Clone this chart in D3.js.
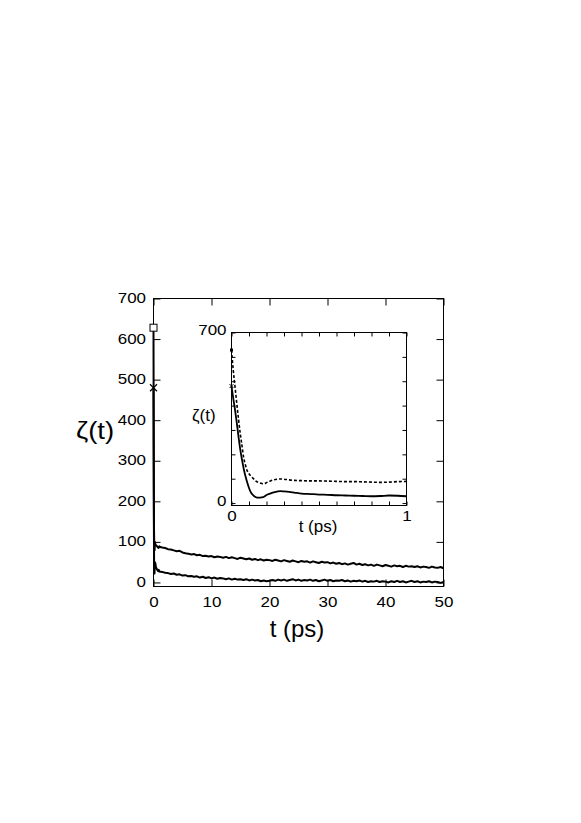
<!DOCTYPE html>
<html>
<head>
<meta charset="utf-8">
<script src="https://cdn.jsdelivr.net/npm/d3@7"></script>
<style>
  body { margin: 0; background: #fff; }
  text { font-family: "Liberation Sans", Arial, Helvetica, sans-serif; fill: #000; }
</style>
</head>
<body>
<div id="chart"></div>
<script>
// short-time part of the friction kernel (ps), also shown in the inset
let shortT = [0, 0.01, 0.02, 0.03, 0.04, 0.05, 0.06, 0.07, 0.08, 0.09, 0.10, 0.11, 0.12, 0.13, 0.14,
  0.15, 0.16, 0.17, 0.18, 0.19, 0.20, 0.22, 0.24, 0.26, 0.28, 0.30, 0.33, 0.36, 0.40, 0.45,
  0.50, 0.55, 0.60, 0.65, 0.70, 0.75, 0.80, 0.85, 0.90, 0.95, 1.00];
let shortUpper = [628, 545, 478, 410, 345, 285, 235, 185, 155, 132, 120, 111, 104, 97, 90,
  86, 83, 81, 79, 80, 84, 90, 95, 98, 99, 98, 95, 93, 92, 91,
  91, 90, 89, 88, 88, 87, 86, 85, 86, 88, 89];
let shortLower = [480, 430, 383, 330, 273, 220, 178, 140, 110, 84, 62, 45, 35, 28, 24,
  22, 22, 23, 24, 28, 33, 39, 44, 47, 49, 48, 46, 43, 39, 37,
  35, 34, 32, 31, 30, 29, 28, 29, 31, 30, 28];

// long-time tail, sampled every 0.5 ps from 1 to 50 ps
let longT = d3.range(1, 50.001, 0.5);
let longUpper = [88, 86, 85, 82, 81, 79, 77, 78, 74, 72, 71, 69, 70, 67, 68, 65, 66, 64, 65,
  62, 64, 63, 61, 63, 60, 62, 60, 58, 61, 59, 57, 59, 56, 58, 55, 57, 54, 56, 55,
  53, 56, 54, 52, 55, 53, 51, 54, 52, 50, 53, 51, 52, 49, 52, 50, 48, 51, 49, 50,
  47, 49, 46, 48, 45, 47, 44, 46, 48, 44, 46, 43, 45, 42, 44, 41, 44, 42, 40, 43,
  41, 39, 42, 40, 41, 38, 41, 39, 40, 38, 40, 37, 39, 38, 36, 39, 37, 36, 38, 35];
let longLower = [27, 26, 24, 23, 21, 22, 19, 20, 17, 18, 15, 16, 14, 15, 12, 14, 11, 13, 10,
  12, 9, 11, 10, 8, 10, 7, 9, 7, 8, 6, 8, 5, 7, 5, 6, 3, 5, 3, 4,
  6, 4, 7, 5, 7, 4, 6, 8, 5, 7, 4, 6, 5, 7, 4, 6, 3, 5, 7, 4,
  6, 3, 5, 4, 6, 3, 5, 2, 4, 3, 5, 2, 4, 1, 3, 2, 4, 1, 3, 2,
  0, 3, 1, 4, 1, 3, 0, 2, 4, 1, 3, 0, 2, 1, 3, 0, 2, 1, -1, 1];

// t = 0 values marked with symbols
let startUpper = 628;
let startLower = 480;

let mainXTicks = [0, 10, 20, 30, 40, 50];
let mainYTicks = [0, 100, 200, 300, 400, 500, 600, 700];
let insetXTicks = [0, 0.1, 0.2, 0.3, 0.4, 0.5, 0.6, 0.7, 0.8, 0.9, 1];
let insetYTicks = [0, 100, 200, 300, 400, 500, 600, 700];
let insetXLabels = [0, 1];
let insetYLabels = [0, 700];

let width = 581, height = 823;
let svg = d3.select("#chart").append("svg")
  .attr("width", width)
  .attr("height", height)
  .style("background", "#fff");

let tickFont = 14.5;
let stretch = "scale(1.17,1)"; // tick digits in the original are wide

// ---------- main plot ----------
let main = { left: 153.5, right: 443.5, top: 298.5, bottom: 586.5 };
let x = d3.scaleLinear().domain([0, 50]).range([main.left, main.right]);
let y = d3.scaleLinear().domain([-10, 700]).range([main.bottom, main.top]);

function styleTicks(g) {
  g.select(".domain").remove();
  g.selectAll(".tick line").attr("stroke", "#000").attr("stroke-width", 1);
}

let gx = svg.append("g").attr("transform", `translate(0,${main.bottom})`)
  .call(d3.axisBottom(x).tickValues(mainXTicks).tickSize(-7).tickPadding(10).tickFormat(d3.format("d")));
styleTicks(gx);
gx.selectAll("text").attr("font-size", tickFont).attr("font-family", null).attr("transform", stretch);

let gxTop = svg.append("g").attr("transform", `translate(0,${main.top})`)
  .call(d3.axisTop(x).tickValues(mainXTicks).tickSize(-7).tickFormat(""));
styleTicks(gxTop);

let gy = svg.append("g").attr("transform", `translate(${main.left},0)`)
  .call(d3.axisLeft(y).tickValues(mainYTicks).tickSize(-7).tickFormat(d3.format("d")));
styleTicks(gy);
gy.selectAll("text").attr("font-size", tickFont).attr("font-family", null)
  .attr("x", -7.5 / 1.17).attr("dy", "0.28em").attr("transform", stretch);

let gyRight = svg.append("g").attr("transform", `translate(${main.right},0)`)
  .call(d3.axisRight(y).tickValues(mainYTicks).tickSize(-7).tickFormat(""));
styleTicks(gyRight);

svg.append("rect")
  .attr("x", main.left).attr("y", main.top)
  .attr("width", main.right - main.left).attr("height", main.bottom - main.top)
  .attr("fill", "none").attr("stroke", "#000").attr("stroke-width", 1);

let allT = shortT.concat(longT);
let line = d3.line().x((d) => x(d[0])).y((d) => y(d[1]));

[shortUpper.concat(longUpper), shortLower.concat(longLower)].forEach(function (vals) {
  svg.append("path")
    .datum(allT.map((t, i) => [t, vals[i]]))
    .attr("d", line)
    .attr("fill", "none")
    .attr("stroke", "#000")
    .attr("stroke-width", 2)
    .attr("stroke-linejoin", "round");
});

// t = 0 symbols
let sq = 7;
svg.append("rect")
  .attr("x", x(0) - sq / 2).attr("y", y(startUpper) - sq / 2)
  .attr("width", sq).attr("height", sq)
  .attr("fill", "#fff").attr("stroke", "#000").attr("stroke-width", 1);
let cx = x(0), cy = y(startLower), r = 3.5;
svg.append("path")
  .attr("d", `M${cx - r},${cy - r}L${cx + r},${cy + r}M${cx - r},${cy + r}L${cx + r},${cy - r}`)
  .attr("stroke", "#000").attr("stroke-width", 1.2);

svg.append("text")
  .attr("x", 297).attr("y", 636.5)
  .attr("text-anchor", "middle")
  .attr("font-size", 24)
  .text("t (ps)");
svg.append("text")
  .attr("transform", "translate(76,439) scale(1.15,1)")
  .attr("font-size", 24)
  .text("ζ(t)");

// ---------- inset ----------
let ins = { left: 231.5, right: 406.5, top: 332.5, bottom: 505.5 };
let xI = d3.scaleLinear().domain([0, 1]).range([ins.left, ins.right]);
let yI = d3.scaleLinear().domain([-10, 700]).range([ins.bottom, ins.top]);

svg.append("rect")
  .attr("x", ins.left).attr("y", ins.top)
  .attr("width", ins.right - ins.left).attr("height", ins.bottom - ins.top)
  .attr("fill", "#fff").attr("stroke", "none");

let ix = svg.append("g").attr("transform", `translate(0,${ins.bottom})`)
  .call(d3.axisBottom(xI).tickValues(insetXTicks).tickSize(-4).tickPadding(5)
    .tickFormat((d) => (insetXLabels.includes(d) ? d3.format("d")(d) : "")));
styleTicks(ix);
ix.selectAll("text").attr("font-size", tickFont).attr("font-family", null).attr("transform", stretch);

let ixTop = svg.append("g").attr("transform", `translate(0,${ins.top})`)
  .call(d3.axisTop(xI).tickValues(insetXTicks).tickSize(-4).tickFormat(""));
styleTicks(ixTop);

let iy = svg.append("g").attr("transform", `translate(${ins.left},0)`)
  .call(d3.axisLeft(yI).tickValues(insetYTicks).tickSize(-4)
    .tickFormat((d) => (insetYLabels.includes(d) ? d3.format("d")(d) : "")));
styleTicks(iy);
iy.selectAll("text").attr("font-size", tickFont).attr("font-family", null)
  .attr("x", -5 / 1.17).attr("dy", "0.15em").attr("transform", stretch);

let iyRight = svg.append("g").attr("transform", `translate(${ins.right},0)`)
  .call(d3.axisRight(yI).tickValues(insetYTicks).tickSize(-4).tickFormat(""));
styleTicks(iyRight);

svg.append("rect")
  .attr("x", ins.left).attr("y", ins.top)
  .attr("width", ins.right - ins.left).attr("height", ins.bottom - ins.top)
  .attr("fill", "none").attr("stroke", "#000").attr("stroke-width", 1);

let lineI = d3.line().x((d) => xI(d[0])).y((d) => yI(d[1])).curve(d3.curveMonotoneX);

svg.append("path")
  .datum(shortT.map((t, i) => [t, shortUpper[i]]))
  .attr("d", lineI)
  .attr("fill", "none")
  .attr("stroke", "#000")
  .attr("stroke-width", 1.6)
  .attr("stroke-dasharray", "3,2");
svg.append("path")
  .datum(shortT.map((t, i) => [t, shortLower[i]]))
  .attr("d", lineI)
  .attr("fill", "none")
  .attr("stroke", "#000")
  .attr("stroke-width", 1.8);

svg.append("rect")
  .attr("x", xI(0) - 1.5).attr("y", yI(startUpper) - 1.5)
  .attr("width", 3).attr("height", 3)
  .attr("fill", "#000");
let icx = xI(0), icy = yI(startLower), ir = 2;
svg.append("path")
  .attr("d", `M${icx - ir},${icy - ir}L${icx + ir},${icy + ir}M${icx - ir},${icy + ir}L${icx + ir},${icy - ir}`)
  .attr("stroke", "#000").attr("stroke-width", 1);

svg.append("text")
  .attr("x", 318).attr("y", 532)
  .attr("text-anchor", "middle")
  .attr("font-size", 17)
  .text("t (ps)");
svg.append("text")
  .attr("x", 192).attr("y", 421)
  .attr("font-size", 17)
  .text("ζ(t)");
</script>
</body>
</html>
